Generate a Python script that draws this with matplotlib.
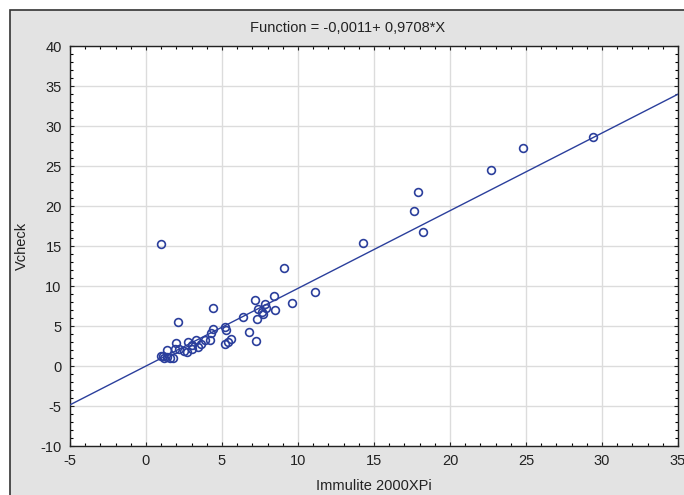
import matplotlib
matplotlib.use("Agg")
import matplotlib.pyplot as plt
from matplotlib.patches import Rectangle
import numpy as np

# Data
x_vals = [1.0, 29.4, 24.8, 22.7, 17.9, 17.6, 18.2, 14.3, 9.1, 11.1,
          8.4, 9.6, 8.5, 7.2, 7.8, 7.4, 7.6, 7.7, 7.9, 7.3,
          6.4, 6.8, 7.25, 4.4, 2.1, 5.2, 5.25, 5.2, 5.4, 5.6,
          4.4, 4.3, 4.2, 3.9, 3.65, 3.3, 3.45, 3.0, 3.0, 2.75,
          2.7, 2.5, 2.2, 1.9, 2.0, 1.4, 1.0, 1.2, 1.4, 1.6,
          1.8, 1.1]
y_vals = [15.2, 28.6, 27.3, 24.5, 21.7, 19.4, 16.75, 15.4, 12.2, 9.2,
          8.75, 7.9, 7.0, 8.2, 7.7, 7.1, 6.8, 6.5, 7.3, 5.9,
          6.1, 4.3, 3.1, 7.25, 5.5, 4.9, 4.5, 2.8, 3.0, 3.4,
          4.6, 4.1, 3.3, 3.2, 2.8, 3.25, 2.4, 2.1, 2.6, 3.0,
          1.7, 1.9, 2.1, 2.1, 2.9, 2.0, 1.2, 1.0, 1.1, 1.0,
          1.0, 1.3]
intercept = -0.0011
slope = 0.9708
x_ticks = [-5, 0, 5, 10, 15, 20, 25, 30, 35]
y_ticks = [-10, -5, 0, 5, 10, 15, 20, 25, 30, 35, 40]
title_text = "Function = -0,0011+ 0,9708*X"
x_label = "Immulite 2000XPi"
y_label = "Vcheck"

plt.rcParams['font.family'] = ['Liberation Sans Narrow', 'Liberation Sans', 'DejaVu Sans']
plt.rcParams['axes.unicode_minus'] = False

W, H = 684, 495
fig = plt.figure(figsize=(W / 100, H / 100), dpi=100)
fig.patch.set_facecolor('white')

# gray panel frame (behind the axes)
bg = fig.add_axes([0, 0, 1, 1], zorder=-5)
bg.set_xlim(0, W)
bg.set_ylim(H, 0)
bg.axis('off')
bg.add_patch(Rectangle((10, 10), W + 20, H + 20, facecolor='#e3e3e3',
                       edgecolor='#333333', linewidth=1.2))

ax = fig.add_axes([70 / W, (H - 446) / H, (678 - 70) / W, (446 - 46) / H], zorder=1)
ax.set_facecolor('white')

blue = '#2b3f9c'
xs = np.array([x_ticks[0], x_ticks[-1]])
ax.plot(xs, intercept + slope * xs, color=blue, linewidth=1.0, zorder=3)
ax.plot(x_vals, y_vals, linestyle='none', marker='o', markersize=5.6,
        markerfacecolor='none', markeredgecolor=blue, markeredgewidth=1.2, zorder=4)

ax.set_xlim(x_ticks[0], x_ticks[-1])
ax.set_ylim(y_ticks[0], y_ticks[-1])
ax.set_xticks(x_ticks)
ax.set_yticks(y_ticks)
ax.set_xticks(np.arange(x_ticks[0], x_ticks[-1] + 1, 1), minor=True)
ax.set_yticks(np.arange(y_ticks[0], y_ticks[-1] + 1, 1), minor=True)
ax.tick_params(which='major', direction='in', length=3, width=0.8, top=True, right=True,
               labelsize=10.5, colors='#222222', pad=6)
ax.tick_params(which='minor', direction='in', length=2, width=0.8, top=True, right=True)
ax.grid(True, which='major', color='#dcdcdc', linewidth=1.0)
ax.set_axisbelow(True)
for s in ax.spines.values():
    s.set_color('#222222')
    s.set_linewidth(1.0)

fig.text(348 / W, 1 - 28 / H, title_text, fontsize=10.5, color='#222222',
         ha='center', va='center')
ax.set_xlabel(x_label, fontsize=10.5, labelpad=8, color='#222222')
ax.set_ylabel(y_label, fontsize=10.5, labelpad=8, color='#222222')

fig.savefig('out.png', dpi=100)
